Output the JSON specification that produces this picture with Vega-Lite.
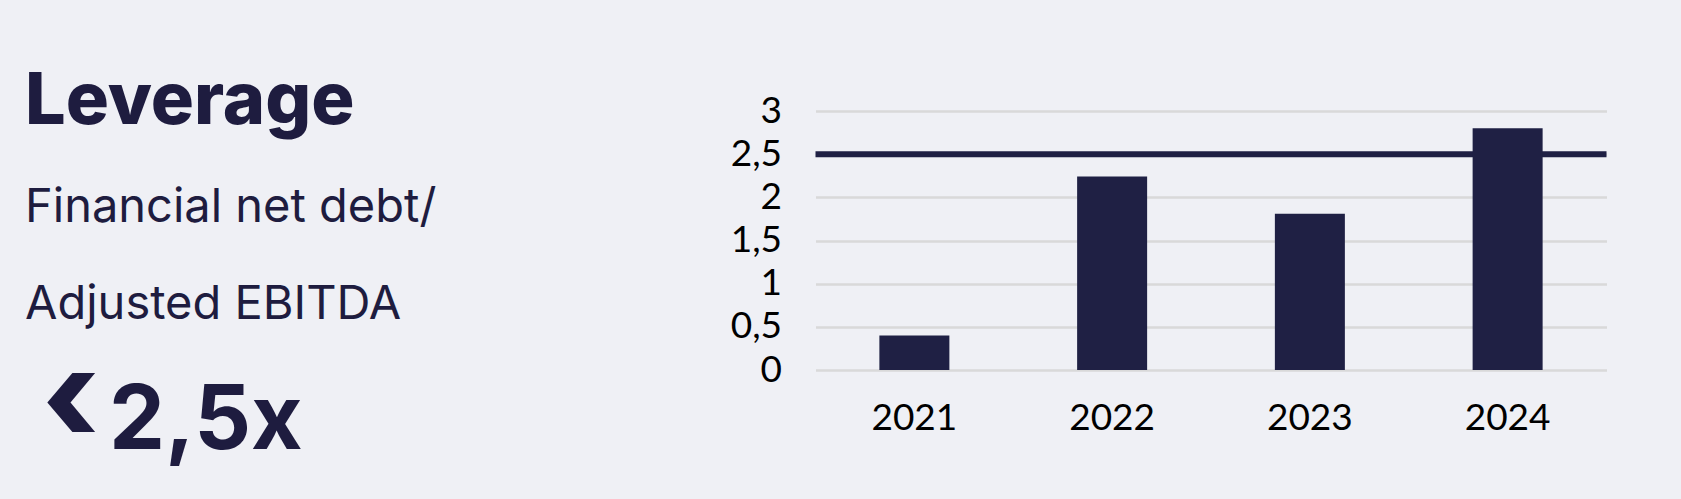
{
  "$schema": "https://vega.github.io/schema/vega-lite/v6.json",
  "background": "#eff0f5",
  "padding": {"left": 25, "top": 65, "right": 71, "bottom": 33},
  "spacing": 104.5,
  "config": {
    "view": {"stroke": null},
    "axisX": {"domain": false, "ticks": false, "grid": false, "labelFont": "Lato", "labelFontSize": 37, "labelColor": "#000000", "labelPadding": 30, "labelAngle": 0},
    "axisY": {"domain": false, "ticks": false, "grid": true, "gridColor": "#d9d9d9", "gridWidth": 2.5, "labelFont": "Lato", "labelFontSize": 37, "labelColor": "#000000", "labelPadding": 34}
  },
  "hconcat": [
    {
      "width": 600,
      "height": 319,
      "data": {"values": [
        {"line": 1, "kind": "title", "text": "Leverage"},
        {"line": 2, "kind": "body", "text": "Financial net debt/"},
        {"line": 3, "kind": "body", "text": "Adjusted EBITDA"},
        {"line": 4, "kind": "sign", "text": "‹"},
        {"line": 4, "kind": "value", "text": "2,5x"}
      ]},
      "encoding": {
        "x": {"datum": 0, "type": "quantitative", "scale": {"domain": [0, 1]}, "axis": null},
        "y": {"field": "line", "type": "ordinal", "scale": {"type": "point", "padding": 0.152}, "axis": null},
        "text": {"field": "text"}
      },
      "layer": [
        {"transform": [{"filter": "datum.kind === 'title'"}], "mark": {"type": "text", "align": "left", "baseline": "alphabetic", "font": "Inter", "fontWeight": 800, "fontSize": 72, "color": "#1e1c3f", "dy": -2}},
        {"transform": [{"filter": "datum.kind === 'body'"}], "mark": {"type": "text", "align": "left", "baseline": "alphabetic", "font": "Inter", "fontWeight": 400, "fontSize": 47, "color": "#1e1c3f"}},
        {"transform": [{"filter": "datum.kind === 'sign'"}], "mark": {"type": "text", "align": "left", "baseline": "alphabetic", "font": "Inter", "fontWeight": 800, "fontSize": 128, "color": "#1e1c3f", "dx": 17, "dy": 26}},
        {"transform": [{"filter": "datum.kind === 'value'"}], "mark": {"type": "text", "align": "left", "baseline": "alphabetic", "font": "Inter", "fontWeight": 700, "fontSize": 89, "color": "#1e1c3f", "dx": 84, "dy": 34}}
      ]
    },
    {
      "width": 791,
      "height": 259,
      "data": {"values": [
        {"year": "2021", "leverage": 0.40},
        {"year": "2022", "leverage": 2.24},
        {"year": "2023", "leverage": 1.81},
        {"year": "2024", "leverage": 2.80}
      ]},
      "layer": [
        {
          "data": {"values": [{"target": 2.5}]},
          "mark": {"type": "rule", "color": "#1f2044", "strokeWidth": 6},
          "encoding": {
            "y": {"field": "target", "type": "quantitative", "scale": {"domain": [0, 3], "nice": false}, "axis": {"title": null, "values": [0, 0.5, 1, 1.5, 2, 2.5, 3], "labelExpr": "replace(format(datum.value, '.1~f'), '.', ',')"}}
          }
        },
        {
          "mark": {"type": "bar", "color": "#1f2044"},
          "encoding": {
            "x": {"field": "year", "type": "ordinal", "scale": {"paddingInner": 0.646, "paddingOuter": 0.323}, "axis": {"title": null}},
            "y": {"field": "leverage", "type": "quantitative", "scale": {"domain": [0, 3], "nice": false}, "axis": {"title": null, "values": [0, 0.5, 1, 1.5, 2, 2.5, 3], "labelExpr": "replace(format(datum.value, '.1~f'), '.', ',')"}}
          }
        }
      ]
    }
  ]
}
